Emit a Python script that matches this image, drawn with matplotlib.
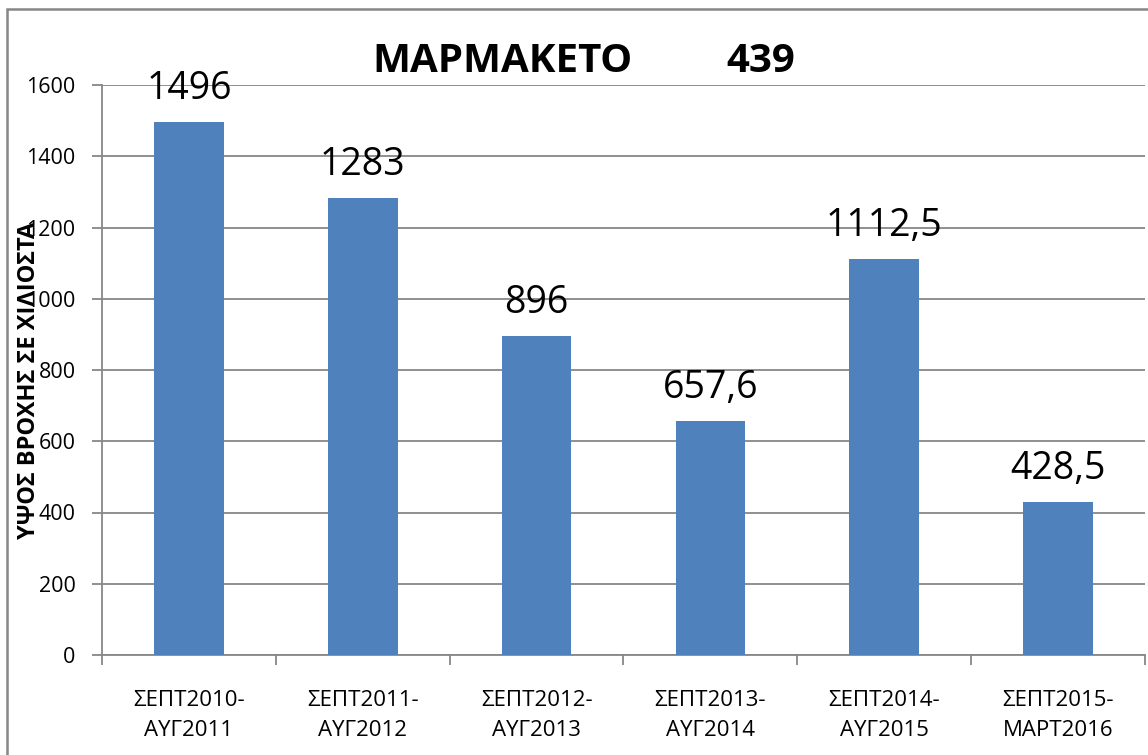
import matplotlib
matplotlib.use("Agg")
import matplotlib.pyplot as plt
from matplotlib.patches import Rectangle

plt.rcParams['font.family'] = ['Open Sans', 'DejaVu Sans']

categories = ["ΣΕΠΤ2010-\nΑΥΓ2011", "ΣΕΠΤ2011-\nΑΥΓ2012", "ΣΕΠΤ2012-\nΑΥΓ2013",
              "ΣΕΠΤ2013-\nΑΥΓ2014", "ΣΕΠΤ2014-\nΑΥΓ2015", "ΣΕΠΤ2015-\nΜΑΡΤ2016"]
values = [1496, 1283, 896, 657.6, 1112.5, 428.5]
value_labels = ["1496", "1283", "896", "657,6", "1112,5", "428,5"]
yticks = [0, 200, 400, 600, 800, 1000, 1200, 1400, 1600]
title_name = "ΜΑΡΜΑΚΕΤΟ"
title_code = "439"
ylabel = "ΥΨΟΣ ΒΡΟΧΗΣ ΣΕ ΧΙΛΙΟΣΤΑ"

W, H = 1148, 755
fig = plt.figure(figsize=(W / 100, H / 100), dpi=100)
fig.patch.set_facecolor("white")

# outer border (cropped at right and bottom)
fig.patches.append(Rectangle((7 / W, -0.05), 1.2, 1 - 9 / H + 0.05, transform=fig.transFigure,
                             fill=False, edgecolor="#878787", linewidth=1.8))

ax = fig.add_axes([102 / W, 1 - 655 / H, (1145 - 102) / W, (655 - 85) / H])
x = list(range(len(values)))
ax.bar(x, values, width=0.4, color="#4F81BD", zorder=3)
ax.set_xlim(-0.5, len(values) - 0.5)
ax.set_ylim(0, 1600)
ax.set_yticks(yticks)
ax.set_yticklabels([str(v) for v in yticks], fontsize=15.5)
ax.set_xticks(x)
ax.set_xticklabels(categories, fontsize=16, linespacing=1.6)
ax.tick_params(axis="x", length=0, pad=25)
ax.set_xticks([i - 0.5 for i in range(len(values) + 1)], minor=True)
ax.tick_params(axis="x", which="minor", length=7, color="#878787", width=1.3)
ax.tick_params(axis="y", length=7, color="#878787", width=1.3, pad=12)
ax.grid(axis="y", color="#878787", linewidth=1.3, zorder=0)
for s in ["top", "right"]:
    ax.spines[s].set_visible(False)
for s in ["left", "bottom"]:
    ax.spines[s].set_color("#878787")
    ax.spines[s].set_linewidth(1.3)

for xi, v, lab in zip(x, values, value_labels):
    ax.annotate(lab, (xi, v), xytext=(0, 10), textcoords="offset points",
                ha="center", va="bottom", fontsize=27, color="black", zorder=4)

fig.text(503 / W, 1 - 61 / H, title_name, ha="center", va="center", fontsize=29, fontweight="bold")
fig.text(761 / W, 1 - 61 / H, title_code, ha="center", va="center", fontsize=29, fontweight="bold")
fig.text(29 / W, 1 - 380 / H, ylabel, ha="center", va="center", rotation=90,
         fontsize=17, fontweight="bold")

fig.savefig("out.png", dpi=100)
